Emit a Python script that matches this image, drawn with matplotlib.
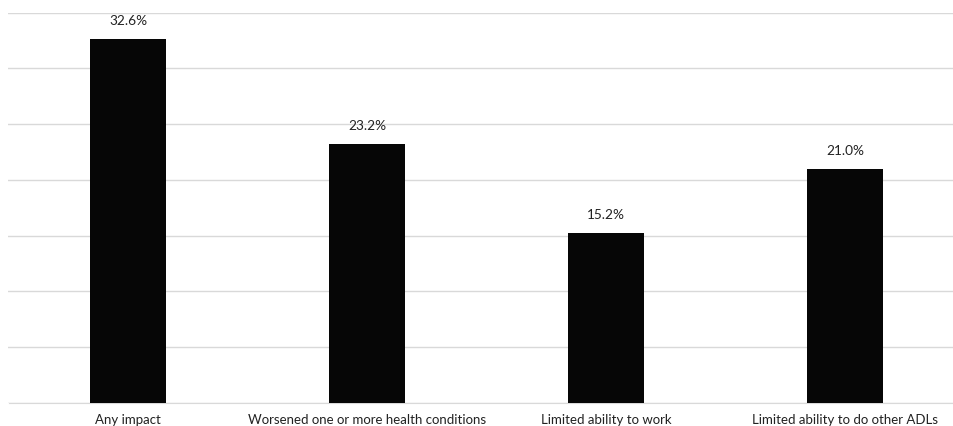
import matplotlib.pyplot as plt

categories = ['Any impact', 'Worsened one or more health conditions',
              'Limited ability to work', 'Limited ability to do other ADLs']
values = [32.6, 23.2, 15.2, 21.0]
labels = ['32.6%', '23.2%', '15.2%', '21.0%']

plt.rcParams['font.family'] = ['Lato', 'DejaVu Sans']

fig = plt.figure(figsize=(9.54, 4.26), dpi=100)
# axes extends past the right edge, like the cropped original
ax = fig.add_axes([8.5 / 954, (426 - 403) / 426, 956 / 954, (403 - 12.7) / 426])

x = range(len(categories))
bars = ax.bar(x, values, width=0.314, color='#060606', zorder=3)

for b, lab in zip(bars, labels):
    ax.text(b.get_x() + b.get_width() / 2, b.get_height() + 1.1, lab,
            ha='center', va='bottom', fontsize=9.8, color='#222222')

ax.set_xlim(-0.5, 3.5)
ax.set_ylim(0, 35)
ax.set_yticks(range(0, 36, 5))
ax.yaxis.grid(True, color='#d9d9d9', linewidth=1, zorder=0)
ax.tick_params(axis='y', left=False, labelleft=False)
ax.tick_params(axis='x', length=0, pad=8, labelsize=9.5, labelcolor='#222222')
ax.set_xticks(list(x))
ax.set_xticklabels(categories)

for side in ['top', 'right', 'left']:
    ax.spines[side].set_visible(False)
ax.spines['bottom'].set_color('#d9d9d9')

fig.savefig('out.png', dpi=100)
